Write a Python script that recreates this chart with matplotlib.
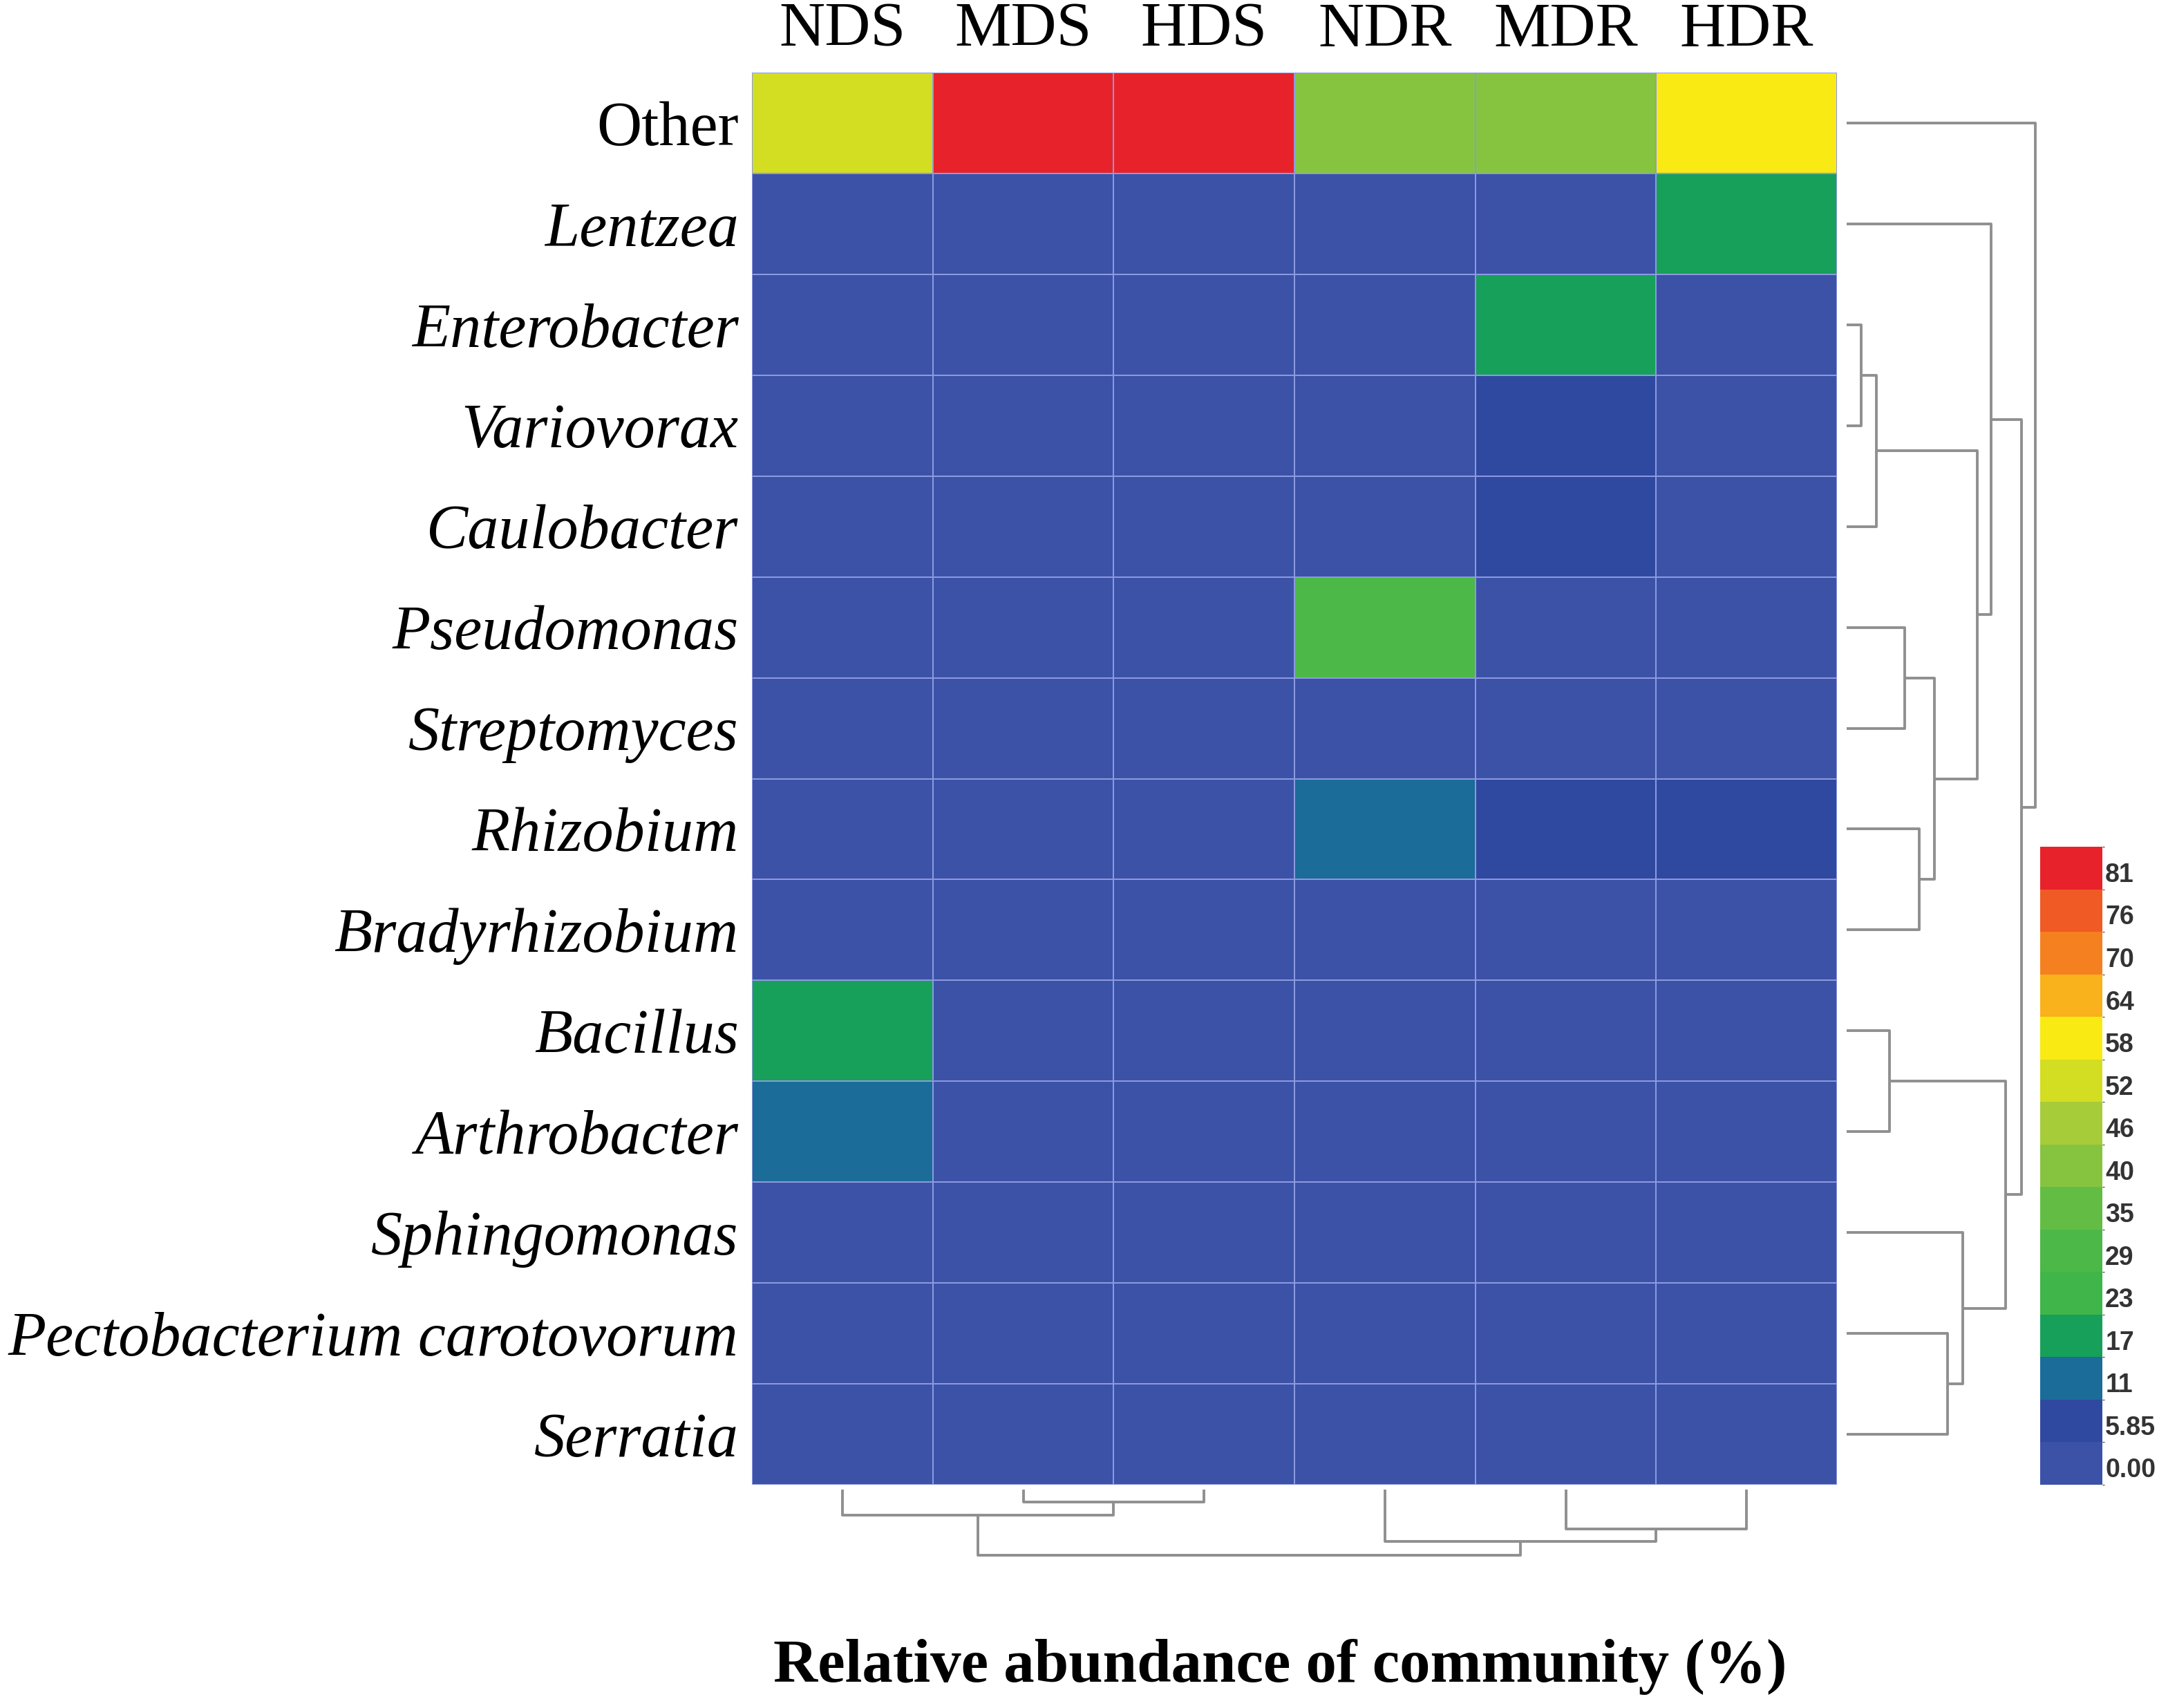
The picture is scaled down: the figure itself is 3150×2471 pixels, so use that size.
import numpy as np
import matplotlib.pyplot as plt
from matplotlib.colors import ListedColormap, BoundaryNorm
from matplotlib.cm import ScalarMappable

plt.rcParams['font.family'] = ['Liberation Serif', 'DejaVu Serif']

samples = ["NDS", "MDS", "HDS", "NDR", "MDR", "HDR"]
taxa = ["Other", "Lentzea", "Enterobacter", "Variovorax", "Caulobacter",
        "Pseudomonas", "Streptomyces", "Rhizobium", "Bradyrhizobium",
        "Bacillus", "Arthrobacter", "Sphingomonas",
        "Pectobacterium carotovorum", "Serratia"]

# relative abundance (%) per sample, rows in the order of taxa
nds = [54, 0.5, 0.8, 1.5, 1.2, 2.0, 1.8, 1.5, 2.5, 19, 12, 2.2, 0.6, 0.8]
mds = [83, 0.3, 1.5, 1.8, 2.0, 2.5, 1.6, 2.2, 1.4, 1.0, 1.2, 1.0, 0.5, 0.4]
hds = [84, 0.4, 1.2, 2.0, 1.5, 2.2, 1.8, 2.0, 1.6, 0.8, 1.0, 0.8, 0.3, 0.6]
ndr = [43, 0.6, 2.5, 3.0, 2.6, 30, 2.2, 12, 1.8, 0.5, 0.4, 0.6, 0.8, 1.0]
mdr = [42, 1.0, 18, 6.5, 6.2, 4.0, 4.5, 6.8, 4.2, 0.4, 0.3, 1.5, 2.5, 2.8]
hdr = [59, 19, 3.0, 3.5, 3.2, 4.0, 4.5, 7.0, 3.8, 0.2, 0.3, 0.5, 0.6, 0.8]

# colour key levels
levels = [0.00, 5.85, 11, 17, 23, 29, 35, 40, 46, 52, 58, 64, 70, 76, 81]
level_labels = ["0.00", "5.85", "11", "17", "23", "29", "35", "40", "46",
                "52", "58", "64", "70", "76", "81"]
top_bound = 87
key_colors = ["#3b52a7", "#2f49a0", "#1b6c98", "#16a05a", "#3fb54a",
              "#4cb848", "#63bd45", "#86c440", "#a6cc3a", "#d3dd22",
              "#f9ea14", "#f9b11c", "#f5801f", "#f05a24", "#e8222a"]

# hierarchical clustering (merge a, merge b, height); nodes numbered after leaves
row_merges = [(2, 3, 65), (14, 4, 130), (5, 6, 255), (7, 8, 320),
              (16, 17, 385), (15, 18, 575), (1, 19, 635), (9, 10, 190),
              (12, 13, 445), (11, 22, 510), (21, 23, 700), (20, 24, 770),
              (0, 25, 830)]
col_merges = [(1, 2, 55), (0, 6, 110), (4, 5, 170), (3, 8, 225), (7, 9, 285)]


def dendro_segments(n, merges):
    pos = [i + 0.5 for i in range(n)]
    hgt = [0] * n
    segs = []
    for a, b, h in merges:
        segs.append(([hgt[a], h, h, hgt[b]], [pos[a], pos[a], pos[b], pos[b]]))
        pos.append((pos[a] + pos[b]) / 2)
        hgt.append(h)
    return segs


data = np.array([nds, mds, hds, ndr, mdr, hdr]).T
bounds = levels + [top_bound]
cmap = ListedColormap(key_colors)
norm = BoundaryNorm(bounds, cmap.N)

W, H = 3150, 2471
fig = plt.figure(figsize=(W / 100, H / 100), dpi=100)

hm_l, hm_r, hm_t, hm_b = 1088, 2658, 105, 2148
ax = fig.add_axes([hm_l / W, 1 - hm_b / H, (hm_r - hm_l) / W, (hm_b - hm_t) / H])
ax.pcolormesh(np.arange(len(samples) + 1), np.arange(len(taxa) + 1), data,
              cmap=cmap, norm=norm, edgecolors="#8d9ae0", linewidth=1.4)
ax.set_xlim(0, len(samples))
ax.set_ylim(len(taxa), 0)
ax.set_xticks(np.arange(len(samples)) + 0.5)
ax.set_xticklabels(samples, fontsize=66)
ax.xaxis.tick_top()
ax.set_yticks(np.arange(len(taxa)) + 0.5)
ax.set_yticklabels(taxa, fontsize=65)
for lab in ax.get_yticklabels():
    if lab.get_text() != "Other":
        lab.set_style("italic")
ax.tick_params(length=0, pad=14)
for s in ax.spines.values():
    s.set_visible(False)

line_kw = dict(color="#8f8f8f", lw=2.8, solid_capstyle="butt", clip_on=False)

# row dendrogram
dr_l, dr_r = 2672, 2945
axr = fig.add_axes([dr_l / W, 1 - hm_b / H, (dr_r - dr_l) / W, (hm_b - hm_t) / H])
for xs, ys in dendro_segments(len(taxa), row_merges):
    axr.plot(xs, ys, **line_kw)
axr.set_xlim(0, 830)
axr.set_ylim(len(taxa), 0)
axr.axis("off")

# column dendrogram
dc_t, dc_b = 2155, 2250
axc = fig.add_axes([hm_l / W, 1 - dc_b / H, (hm_r - hm_l) / W, (dc_b - dc_t) / H])
for hs, ps in dendro_segments(len(samples), col_merges):
    axc.plot(ps, hs, **line_kw)
axc.set_xlim(0, len(samples))
axc.set_ylim(285, 0)
axc.axis("off")

# colour key
cax = fig.add_axes([2952 / W, 1 - 2148 / H, 90 / W, (2148 - 1225) / H])
centers = [bounds[i] + 0.4 * (bounds[i + 1] - bounds[i]) for i in range(len(levels))]
cb = fig.colorbar(ScalarMappable(norm=norm, cmap=cmap), cax=cax, ticks=centers)
cb.set_ticklabels(level_labels)
cb.outline.set_visible(False)
cax.tick_params(length=0, pad=3, labelsize=27, labelcolor="#333333")
for lab in cax.get_yticklabels():
    lab.set_family(["Liberation Sans", "DejaVu Sans"])
    lab.set_weight("bold")

fig.text(1852 / W, 1 - 2412 / H, "Relative abundance of community (%)",
         fontsize=64, fontweight="bold", ha="center", va="center")

fig.savefig("out.png", dpi=100)
